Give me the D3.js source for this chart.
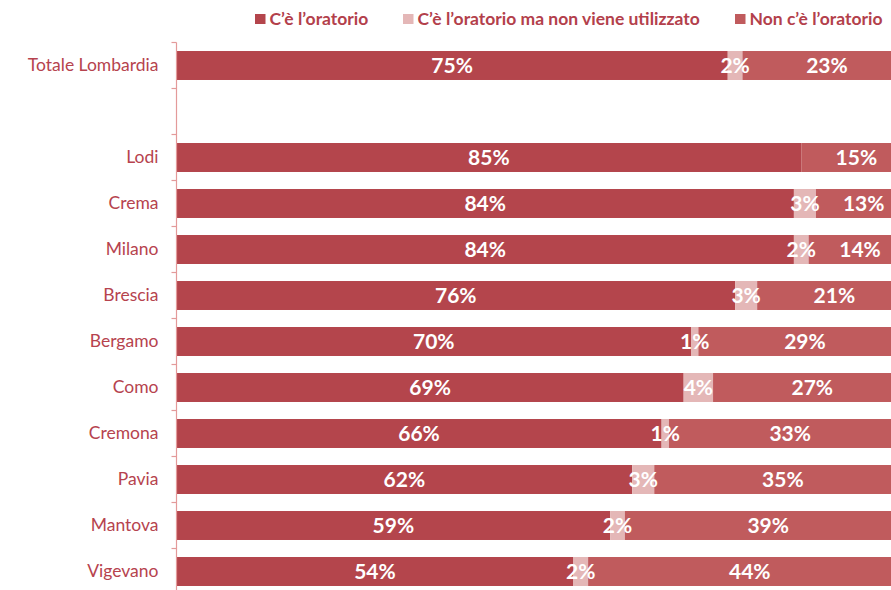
<!DOCTYPE html>
<html>
<head>
<meta charset="utf-8">
<script src="https://cdn.jsdelivr.net/npm/d3@7"></script>
<style>
  html, body { margin: 0; padding: 0; background: #fff; overflow: hidden; }
  svg { display: block; }
</style>
</head>
<body>
<svg id="chart" width="891" height="590"></svg>
<script>
// Categories (an empty slot separates the regional total from the provinces)
const categories = ["Totale Lombardia", "", "Lodi", "Crema", "Milano", "Brescia",
  "Bergamo", "Como", "Cremona", "Pavia", "Mantova", "Vigevano"];

// Share of answers per category, in percent
const presente    = [75, null, 85, 84, 84, 76, 70, 69, 66, 62, 59, 54];
const nonUsato    = [2,  null, 0,  3,  2,  3,  1,  4,  1,  3,  2,  2];
const assente     = [23, null, 15, 13, 14, 21, 29, 27, 33, 35, 39, 44];

const seriesNames = ["C\u2019è l\u2019oratorio",
  "C\u2019è l\u2019oratorio ma non viene utilizzato",
  "Non c\u2019è l\u2019oratorio"];
const seriesColors = ["#b4454c", "#e4b7b7", "#c05b5d"];

const svg = d3.select("#chart");
const W = 891, H = 590;
const FONT = "Lato, 'Open Sans', sans-serif";

// plot area: the 100% scale runs past the right edge of the view
const x = d3.scaleLinear().domain([0, 100]).range([176.5, 911.5]);
const y = d3.scaleBand().domain(d3.range(categories.length))
  .range([42.5, 42.5 + 46 * categories.length]).paddingInner(0.37).paddingOuter(0.185);

const rows = categories.map((c, i) => ({
  i, name: c,
  values: [presente[i], nonUsato[i], assente[i]]
})).filter(r => r.values[0] !== null);

const stack = d3.stack().keys([0, 1, 2]).value((d, k) => d.values[k]);
const layers = stack(rows);

const g = svg.append("g");

layers.forEach((layer, k) => {
  g.selectAll(null).data(layer).enter().append("rect")
    .attr("x", d => x(d[0]))
    .attr("y", d => y(d.data.i))
    .attr("width", d => x(d[1]) - x(d[0]))
    .attr("height", y.bandwidth())
    .attr("fill", seriesColors[k]);
});

// value labels, centred in each segment
layers.forEach((layer, k) => {
  g.selectAll(null).data(layer.filter(d => d[1] - d[0] > 0)).enter().append("text")
    .attr("x", d => (x(d[0]) + x(d[1])) / 2)
    .attr("y", d => y(d.data.i) + y.bandwidth() / 2)
    .attr("dy", "0.36em")
    .attr("text-anchor", "middle")
    .attr("fill", "#fff")
    .style("font-family", FONT)
    .style("font-weight", "bold")
    .style("font-size", "21px")
    .text(d => (d[1] - d[0]) + "%");
});

// category axis
const yAxis = d3.axisLeft(y)
  .tickValues(d3.range(categories.length))
  .tickFormat(i => categories[i])
  .tickSize(0)
  .tickPadding(18);

const axisG = svg.append("g")
  .attr("transform", `translate(${x(0)},0)`)
  .call(yAxis);
axisG.select(".domain").remove();
axisG.selectAll("text")
  .attr("fill", "#b6434e")
  .style("font-family", FONT)
  .style("font-size", "17.5px");

// axis line and tick marks at band boundaries
const boundaries = d3.range(categories.length + 1).map(i => 42.5 + 46 * i);
svg.append("line")
  .attr("x1", x(0)).attr("x2", x(0))
  .attr("y1", boundaries[0]).attr("y2", H)
  .attr("stroke", "#e39a9a").attr("stroke-width", 1.2);
svg.selectAll(null).data(boundaries).enter().append("line")
  .attr("x1", x(0) - 5).attr("x2", x(0))
  .attr("y1", d => d).attr("y2", d => d)
  .attr("stroke", "#e39a9a").attr("stroke-width", 1.2);

// legend
const legendX = [255, 403, 735];
const legend = svg.append("g");
seriesNames.forEach((name, k) => {
  legend.append("rect")
    .attr("x", legendX[k]).attr("y", 14)
    .attr("width", 10.5).attr("height", 10)
    .attr("fill", seriesColors[k]);
  legend.append("text")
    .attr("x", legendX[k] + 14.5).attr("y", 19)
    .attr("dy", "0.36em")
    .attr("fill", "#b3404b")
    .style("font-family", FONT)
    .style("font-weight", "bold")
    .style("font-size", "17.5px")
    .text(name);
});
</script>
</body>
</html>
